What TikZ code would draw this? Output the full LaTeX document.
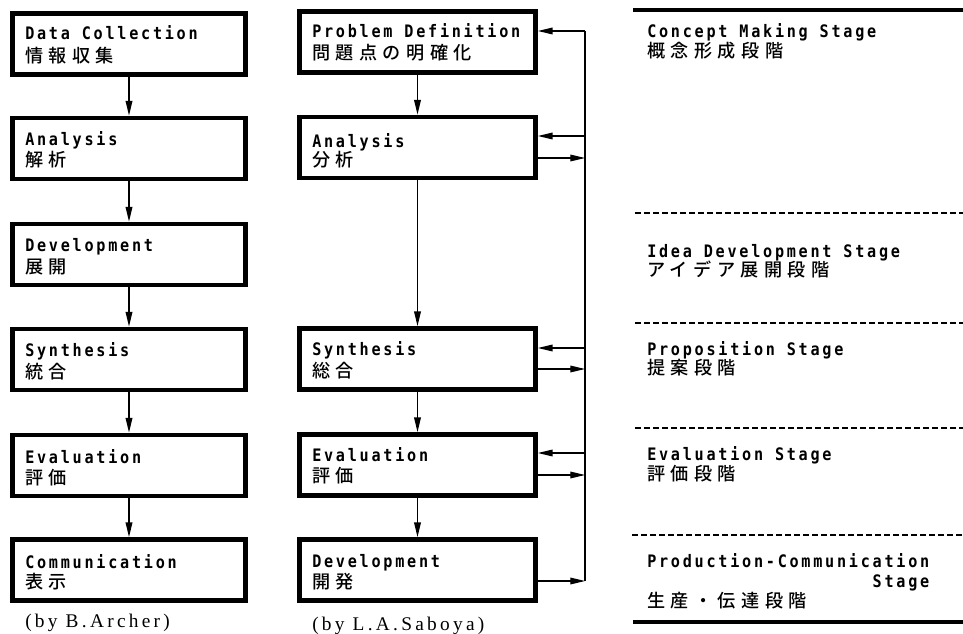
\documentclass[tikz,border=0pt]{standalone}
\usepackage{fontspec}
\newfontfamily\latf[LetterSpace=16,FakeStretch=0.88]{DejaVu Sans Mono Bold}
\newfontfamily\jpf[LetterSpace=30]{Noto Sans CJK JP Medium}
\newfontfamily\serf[LetterSpace=17]{Liberation Serif}
\usetikzlibrary{arrows.meta,calc}
\tikzset{
  lbox/.style={draw, line width=3.6pt, minimum width=174.75pt, minimum height=45.75pt, inner sep=0pt},
  mbox/.style={draw, line width=3.6pt, minimum width=177pt, minimum height=45.75pt, inner sep=0pt},
  lat/.style={anchor=base west, inner sep=0pt, font=\latf\fontsize{12.9pt}{14pt}\selectfont},
  jp/.style={anchor=base west, inner sep=0pt, font=\jpf\fontsize{13.6pt}{15pt}\selectfont},
  ser/.style={anchor=base west, inner sep=0pt, font=\serf\fontsize{14.5pt}{16pt}\selectfont},
  arr/.style={line width=1.1pt, -{Triangle[length=11pt,width=5pt]}},
  fb/.style={line width=0.8pt},
  fbarr/.style={line width=0.9pt, -{Triangle[length=11pt,width=5pt]}},
  thickrule/.style={line width=2.5pt},
  dashrule/.style={line width=0.8pt, dash pattern=on 4.5pt off 2.25pt},
}
\begin{document}
\begin{tikzpicture}[x=0.75pt,y=-0.75pt]
\useasboundingbox (0,0) rectangle (963,634);
% ---- left column (B. Archer)
\node[lbox] (L1) at (129,44) {};
\node[lbox] (L2) at (129,148.5) {};
\node[lbox] (L3) at (129,254.5) {};
\node[lbox] (L4) at (129,359.5) {};
\node[lbox] (L5) at (129,465.5) {};
\node[lbox] (L6) at (129,570) {};
\node[lat] (L1a) at (25,40) {Data Collection};
\node[jp]  (L1b) at (25,62.5) {情報収集};
\node[lat] (L2a) at (25,146) {Analysis};
\node[jp]  (L2b) at (25,166.5) {解析};
\node[lat] (L3a) at (25,252) {Development};
\node[jp]  (L3b) at (25,273.5) {展開};
\node[lat] (L4a) at (25,357) {Synthesis};
\node[jp]  (L4b) at (25,378.5) {統合};
\node[lat] (L5a) at (25,463) {Evaluation};
\node[jp]  (L5b) at (25,484.5) {評価};
\node[lat] (L6a) at (25,568) {Communication};
\node[jp]  (L6b) at (25,588.5) {表示};
\draw[arr] (L1) -- (L2);
\draw[arr] (L2) -- (L3);
\draw[arr] (L3) -- (L4);
\draw[arr] (L4) -- (L5);
\draw[arr] (L5) -- (L6);
\node[ser] (Lby) at (25,627) {(by B.Archer)};
% ---- middle column (L.A. Saboya)
\node[mbox] (M1) at (417.5,42) {};
\node[mbox] (M2) at (417.5,147.5) {};
\node[mbox] (M3) at (417.5,359) {};
\node[mbox] (M4) at (417.5,465) {};
\node[mbox] (M5) at (417.5,570) {};
\node[lat] (M1a) at (312,38) {Problem Definition};
\node[jp]  (M1b) at (312,59.5) {問題点の明確化};
\node[lat] (M2a) at (312,148) {Analysis};
\node[jp]  (M2b) at (312,166.5) {分析};
\node[lat] (M3a) at (312,355) {Synthesis};
\node[jp]  (M3b) at (312,377.5) {総合};
\node[lat] (M4a) at (312,461) {Evaluation};
\node[jp]  (M4b) at (312,482.5) {評価};
\node[lat] (M5a) at (312,567) {Development};
\node[jp]  (M5b) at (312,588.5) {開発};
\draw[arr] (M1) -- (M2);
\draw[arr] (M2) -- (M3);
\draw[arr] (M3) -- (M4);
\draw[arr] (M4) -- (M5);
\node[ser] (Mby) at (312,630) {(by L.A.Saboya)};
% feedback loop
\coordinate (f1) at (585,31);
\coordinate (f2i) at (585,136);
\coordinate (f2o) at (585,158);
\coordinate (f3i) at (585,348);
\coordinate (f3o) at (585,369);
\coordinate (f4i) at (585,453);
\coordinate (f4o) at (585,475);
\coordinate (f5o) at (585,581);
\draw[fb] (f1) -- (f5o);
\draw[fbarr] (f1) -- (M1.east |- f1);
\draw[fbarr] (f2i) -- (M2.east |- f2i);
\draw[fbarr] (M2.east |- f2o) -- (f2o);
\draw[fbarr] (f3i) -- (M3.east |- f3i);
\draw[fbarr] (M3.east |- f3o) -- (f3o);
\draw[fbarr] (f4i) -- (M4.east |- f4i);
\draw[fbarr] (M4.east |- f4o) -- (f4o);
\draw[fbarr] (M5.east |- f5o) -- (f5o);
% ---- right column (stages)
\coordinate (r0a) at (633,10);   \coordinate (r0b) at (963,10);
\coordinate (r1a) at (635,213);  \coordinate (r1b) at (963,213);
\coordinate (r2a) at (635,323);  \coordinate (r2b) at (963,323);
\coordinate (r3a) at (635,428);  \coordinate (r3b) at (963,428);
\coordinate (r4a) at (632,535);  \coordinate (r4b) at (963,535);
\coordinate (r5a) at (633,622);  \coordinate (r5b) at (963,622);
\draw[thickrule] (r0a) -- (r0b);
\draw[dashrule] (r1a) -- (r1b);
\draw[dashrule] (r2a) -- (r2b);
\draw[dashrule] (r3a) -- (r3b);
\draw[dashrule] (r4a) -- (r4b);
\draw[thickrule] (r5a) -- (r5b);
\node[lat] (S1a) at (647,38) {Concept Making Stage};
\node[jp]  (S1b) at (647,58) {概念形成段階};
\node[lat] (S2a) at (647,258) {Idea Development Stage};
\node[jp]  (S2b) at (647,276.5) {アイデア展開段階};
\node[lat] (S3a) at (647,355) {Proposition Stage};
\node[jp]  (S3b) at (647,374.5) {提案段階};
\node[lat] (S4a) at (647,460) {Evaluation Stage};
\node[jp]  (S4b) at (647,480.5) {評価段階};
\node[lat] (S5a) at (647,567) {Production-Communication};
\node[lat, anchor=base east] (S5c) at ($(S5a.base east)+(0,20)$) {Stage};
\node[jp]  (S5b) at (647,607.5) {生産・伝達段階};
\end{tikzpicture}
\end{document}
